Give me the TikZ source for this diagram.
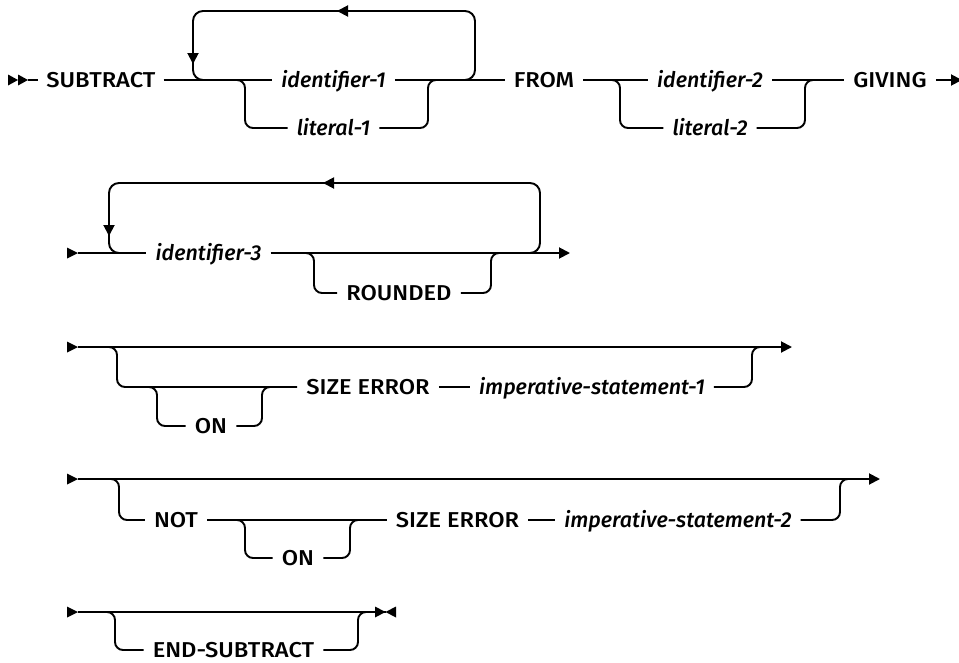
\documentclass[tikz,border=0pt]{standalone}
\usepackage{fontspec}
\newfontfamily\rrfont{Fira Sans}[UprightFont=* Medium, ItalicFont=* Medium Italic, UprightFeatures={FakeStretch=1.1}]
\usetikzlibrary{arrows.meta}
\begin{document}
\begin{tikzpicture}[x=1pt,y=-1pt,
  rail/.style={line width=1.9pt},
  loopline/.style={rail, rounded corners=10pt},
  branchline/.style={rail, rounded corners=8pt},
  kw/.style={font=\rrfont\fontsize{21.5}{25}\selectfont, inner xsep=9pt, inner ysep=0pt, text height=14.8pt, text depth=0pt},
  var/.style={kw, font=\rrfont\itshape\fontsize{21.5}{25}\selectfont},
  tip/.style={rail, -{Triangle[length=11pt,width=11pt]}},
  pics/startmark/.style={code={\fill (0,-5.5) -- (11,0) -- (0,5.5) -- cycle;}},
]
\useasboundingbox (0,0) rectangle (959,662);
\clip (0,0) rectangle (959,662);

% ---------- Row 1 ----------
\coordinate (s1) at (8,80);
\fill (8,74.5) -- (18,80) -- (8,85.5) -- cycle;
\fill (18,74.5) -- (28,80) -- (18,85.5) -- cycle;
\coordinate (s1e) at (28,80);
\node[kw, inner xsep=8pt] (subtract) at (101,80) {SUBTRACT};
\node[var] (id1) at (333.5,80) {identifier-1};
\node[var] (lit1) at (333.5,128) {literal-1};
\node[kw] (from) at (544,80) {FROM};
\node[var] (id2) at (710,80) {identifier-2};
\node[var] (lit2) at (710,128) {literal-2};
\node[kw] (giving) at (890,80) {GIVING};
\coordinate (e1) at (962,80);
\draw[rail] (s1e) -- (subtract.west);
\draw[rail] (subtract.east) -- (id1.west);
\draw[rail] (id1.east) -- (from.west);
\draw[rail] (from.east) -- (id2.west);
\draw[rail] (id2.east) -- (giving.west);
\draw[tip] (giving.east) -- (e1);
% repeat loop
\draw[loopline] (212,80) -- (193,80) -- (193,11) -- (475,11) -- (475,80) -- (456,80);
\draw[tip] (193,45) -- (193,64);
\draw[tip] (356,11) -- (337,11);
% alternatives
\draw[branchline] (230,80) -- (245,80) -- (245,128) -- (lit1.west);
\draw[branchline] (lit1.east) -- (428,128) -- (428,80) -- (443,80);
\draw[branchline] (605,80) -- (620,80) -- (620,128) -- (lit2.west);
\draw[branchline] (lit2.east) -- (805,128) -- (805,80) -- (820,80);

% ---------- Row 2 ----------
\coordinate (s2) at (67,253);
\pic at (s2) {startmark};
\coordinate (s2e) at (78,253);
\node[var] (id3) at (208.5,253) {identifier-3};
\node[kw] (rounded) at (399,293) {ROUNDED};
\coordinate (e2) at (570,253);
\draw[rail] (s2e) -- (id3.west);
\draw[tip] (id3.east) -- (e2);
\draw[loopline] (128,253) -- (109,253) -- (109,183) -- (540,183) -- (540,253) -- (521,253);
\draw[tip] (109,217) -- (109,236);
\draw[tip] (342,183) -- (323,183);
\draw[branchline] (299,253) -- (314,253) -- (314,293) -- (rounded.west);
\draw[branchline] (rounded.east) -- (491,293) -- (491,253) -- (506,253);

% ---------- Row 3 ----------
\coordinate (s3) at (67,347);
\pic at (s3) {startmark};
\coordinate (s3e) at (78,347);
\coordinate (e3) at (792,347);
\node[kw] (on1) at (211,426) {ON};
\node[kw] (se1) at (368,387) {SIZE ERROR};
\node[var] (imp1) at (592,387) {imperative-statement-1};
\draw[tip] (s3e) -- (e3);
\draw[branchline] (102,347) -- (117,347) -- (117,387) -- (se1.west);
\draw[rail] (se1.east) -- (imp1.west);
\draw[branchline] (imp1.east) -- (752,387) -- (752,347) -- (767,347);
\draw[branchline] (142,387) -- (157,387) -- (157,426) -- (on1.west);
\draw[branchline] (on1.east) -- (262,426) -- (262,387) -- (277,387);

% ---------- Row 4 ----------
\coordinate (s4) at (67,479);
\pic at (s4) {startmark};
\coordinate (s4e) at (78,479);
\coordinate (e4) at (880,479);
\node[kw] (not) at (176,520) {NOT};
\node[kw] (on2) at (298,558) {ON};
\node[kw] (se2) at (457.5,520) {SIZE ERROR};
\node[var] (imp2) at (678,520) {imperative-statement-2};
\draw[tip] (s4e) -- (e4);
\draw[branchline] (104,479) -- (119,479) -- (119,520) -- (not.west);
\draw[rail] (not.east) -- (se2.west);
\draw[rail] (se2.east) -- (imp2.west);
\draw[branchline] (imp2.east) -- (840,520) -- (840,479) -- (855,479);
\draw[branchline] (230,520) -- (245,520) -- (245,558) -- (on2.west);
\draw[branchline] (on2.east) -- (350,558) -- (350,520) -- (365,520);

% ---------- Row 5 ----------
\coordinate (s5) at (67,612);
\pic at (s5) {startmark};
\coordinate (s5e) at (78,612);
\coordinate (e5) at (385.5,612);
\node[kw] (endsub) at (233.5,650) {END-SUBTRACT};
\draw[rail] (s5e) -- (e5);
\fill (375,606.5) -- (e5) -- (375,617.5) -- cycle;
\fill (396,606.5) -- (e5) -- (396,617.5) -- cycle;
\draw[branchline] (100,612) -- (115,612) -- (115,650) -- (endsub.west);
\draw[branchline] (endsub.east) -- (358,650) -- (358,612) -- (373,612);
\end{tikzpicture}
\end{document}
